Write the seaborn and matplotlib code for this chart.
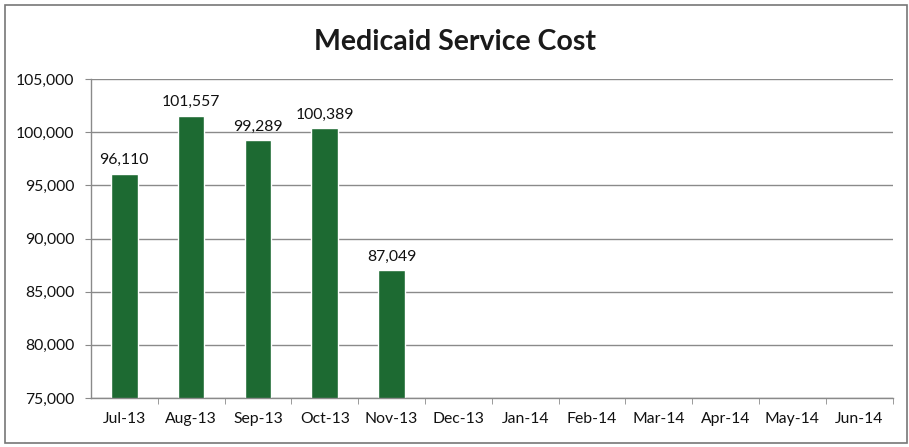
import matplotlib
matplotlib.use("Agg")
import matplotlib.pyplot as plt
import seaborn as sns
import pandas as pd
import numpy as np
from matplotlib.patches import Rectangle

months = ["Jul-13", "Aug-13", "Sep-13", "Oct-13", "Nov-13", "Dec-13",
          "Jan-14", "Feb-14", "Mar-14", "Apr-14", "May-14", "Jun-14"]
costs = [96110, 101557, 99289, 100389, 87049,
         np.nan, np.nan, np.nan, np.nan, np.nan, np.nan, np.nan]
yticks = [75000, 80000, 85000, 90000, 95000, 100000, 105000]

sns.set_style("white")
plt.rcParams['font.family'] = ['Lato', 'DejaVu Sans']

df = pd.DataFrame({"Month": months, "Cost": costs})

fig = plt.figure(figsize=(9.09, 4.47), dpi=100)
ax = fig.add_axes([0.100, 0.1096, 0.882, 0.7134])

sns.barplot(data=df, x="Month", y="Cost", order=months, color="#1d6a32",
            width=0.4, ax=ax, saturation=1)

ax.set_ylim(75000, 105000)
ax.set_yticks(yticks)
ax.set_yticklabels([f"{v:,}" for v in yticks], fontsize=11.3, color="#111111")
ax.set_xticklabels(months, fontsize=11.3, color="#111111")
ax.set_xlabel("")
ax.set_ylabel("")
ax.set_xlim(-0.5, len(months) - 0.5)

ax.yaxis.grid(True, color="#8a8a8a", linewidth=1.0)
ax.set_axisbelow(True)
for s in ["top", "right"]:
    ax.spines[s].set_visible(False)
for s in ["left", "bottom"]:
    ax.spines[s].set_color("#8a8a8a")
    ax.spines[s].set_linewidth(1.0)

ax.tick_params(axis="y", length=4, color="#8a8a8a", pad=8, left=True)
ax.tick_params(axis="x", length=0, pad=10)
ax.set_xticks(np.arange(len(months)) + 0.5, minor=True)
ax.tick_params(axis="x", which="minor", length=4, color="#8a8a8a", bottom=True)

for i, v in enumerate(costs):
    if not np.isnan(v):
        ax.text(i, v + 600, f"{int(v):,}", ha="center", va="bottom",
                fontsize=11.3, color="#111111")

fig.text(0.5, 0.905, "Medicaid Service Cost", ha="center", va="center",
         fontsize=20.5, fontweight="bold", color="#1a1a1a")

fig.patches.append(Rectangle((0.006, 0.008), 0.992, 0.98, transform=fig.transFigure,
                             fill=False, edgecolor="#777777", linewidth=1.2))

fig.savefig("out.png", dpi=100)
